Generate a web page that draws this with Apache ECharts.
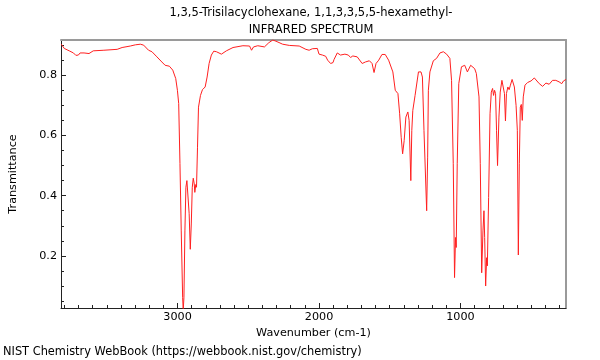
<!DOCTYPE html>
<html>
<head>
<meta charset="utf-8">
<script src="https://cdn.jsdelivr.net/npm/echarts@6/dist/echarts.min.js"></script>
<style>
html,body{margin:0;padding:0;background:#fff;}
#chart{width:600px;height:360px;}
</style>
</head>
<body>
<div id="chart"></div>
<script>
const titleLine1 = '1,3,5-Trisilacyclohexane, 1,1,3,3,5,5-hexamethyl-';
const titleLine2 = 'INFRARED SPECTRUM';
const xName = 'Wavenumber (cm-1)';
const yName = 'Transmittance';
const footer = 'NIST Chemistry WebBook (https://webbook.nist.gov/chemistry)';

const xMin = 254, xMax = 3824;
const yMin = 0.027, yMax = 0.917;
const xLabels = [1000, 2000, 3000];
const yLabels = [0.2, 0.4, 0.6, 0.8];

const wavenumber = [
3822,3801,3766,3736,3719,3701,3689,3661,3626,3596,3521,3427,3392,3334,3298,3263,3240,3205,3181,3146,
3111,3088,3058,3034,3013,3001,2992,2983,2974,2964,2960,2955,2948,2941,2934,2925,2918,2910,2903,2896,
2889,2882,2878,2871,2866,2859,2852,2838,2824,2805,2791,2777,2761,2744,2725,2690,2655,2608,2538,2491,
2477,2463,2433,2386,2355,2327,2304,2257,2210,2140,2093,2070,2047,2012,2000,1976,1953,1939,1918,1901,
1894,1871,1848,1817,1793,1777,1761,1730,1695,1672,1644,1625,1611,1597,1578,1555,1532,1508,1478,1461,
1442,1430,1419,1409,1398,1386,1372,1363,1351,1344,1337,1321,1307,1297,1279,1269,1258,1239,1232,1227,
1216,1192,1169,1145,1121,1098,1075,1063,1051,1042,1035,1030,1023,1012,993,970,951,928,900,888,
869,860,850,841,834,829,822,815,810,801,791,782,773,766,759,752,745,738,728,719,
707,696,689,682,675,665,656,647,635,619,607,598,591,584,577,570,563,556,544,525,
501,478,466,443,419,396,373,349,326,303,284,272,254
];
const transmittance = [
0.903,0.889,0.881,0.874,0.866,0.867,0.874,0.874,0.872,0.881,0.883,0.886,0.892,0.897,0.901,0.903,0.900,0.883,0.878,0.861,
0.844,0.833,0.830,0.817,0.789,0.750,0.706,0.507,0.283,0.061,0.020,0.061,0.283,0.428,0.450,0.450,0.340,0.222,0.306,0.428,
0.458,0.439,0.411,0.437,0.428,0.561,0.694,0.733,0.752,0.761,0.794,0.839,0.867,0.880,0.878,0.870,0.881,0.892,0.898,0.897,
0.883,0.894,0.898,0.894,0.908,0.917,0.913,0.903,0.899,0.897,0.886,0.883,0.888,0.889,0.870,0.867,0.863,0.850,0.839,0.842,
0.852,0.874,0.867,0.870,0.867,0.859,0.864,0.861,0.839,0.844,0.848,0.839,0.809,0.839,0.850,0.869,0.869,0.850,0.811,0.750,
0.739,0.672,0.594,0.539,0.583,0.661,0.678,0.650,0.450,0.617,0.683,0.733,0.728,0.811,0.811,0.794,0.617,0.350,0.528,0.750,
0.811,0.848,0.856,0.874,0.878,0.870,0.856,0.783,0.506,0.128,0.261,0.228,0.506,0.772,0.828,0.833,0.811,0.833,0.822,0.806,
0.728,0.506,0.144,0.283,0.350,0.261,0.100,0.194,0.167,0.394,0.672,0.744,0.756,0.733,0.750,0.739,0.617,0.500,0.661,0.744,
0.783,0.783,0.739,0.648,0.739,0.761,0.752,0.767,0.786,0.761,0.700,0.617,0.203,0.506,0.694,0.703,0.650,0.728,0.767,0.776,
0.781,0.791,0.787,0.772,0.763,0.774,0.770,0.783,0.783,0.778,0.772,0.781,0.786
];

const xMinorTicks = [];
for (let v = 300; v <= 3800; v += 100) xMinorTicks.push(v);
const yMinorTicks = [];
for (let i = 1; i <= 18; i++) yMinorTicks.push(+(i * 0.05).toFixed(2));

const FONT = 'DejaVu Sans';
const axisColor = '#222';
const borderColor = '#9a9a9a';

const data = wavenumber.map((w, i) => [w, transmittance[i]]);

const chart = echarts.init(document.getElementById('chart'), null, {renderer: 'canvas'});
chart.setOption({
  animation: false,
  backgroundColor: '#fff',
  textStyle: {fontFamily: FONT},
  graphic: [
    {type: 'text', x: 311, y: 13, style: {text: titleLine1, font: '11.5px "DejaVu Sans"', fill: '#000', align: 'center', verticalAlign: 'middle'}},
    {type: 'text', x: 311, y: 30, style: {text: titleLine2, font: '11.5px "DejaVu Sans"', fill: '#000', align: 'center', verticalAlign: 'middle'}},
    {type: 'text', x: 3, y: 352, style: {text: footer, font: '11.4px "DejaVu Sans"', fill: '#000', align: 'left', verticalAlign: 'middle'}}
  ],
  grid: {left: 57, right: 34, top: 40, bottom: 52, show: false},
  xAxis: [
    {
      type: 'value', inverse: true, min: xMin, max: xMax, position: 'bottom',
      name: xName, nameLocation: 'middle', nameGap: 17,
      nameTextStyle: {fontSize: 11.2, color: '#000', fontFamily: FONT},
      axisLine: {show: true, lineStyle: {color: axisColor, width: 1}},
      axisTick: {show: true, inside: true, length: 3, customValues: xMinorTicks, lineStyle: {color: axisColor}},
      axisLabel: {show: true, customValues: xLabels, margin: 4, fontSize: 11.2, color: '#000', fontFamily: FONT,
                  formatter: v => String(v)},
      splitLine: {show: false}
    },
    {
      type: 'value', inverse: true, min: xMin, max: xMax, position: 'bottom',
      axisLine: {show: false},
      axisTick: {show: true, inside: true, length: 5, customValues: xLabels, lineStyle: {color: axisColor}},
      axisLabel: {show: false},
      splitLine: {show: false}
    },
    {
      type: 'value', inverse: true, min: xMin, max: xMax, position: 'top',
      axisLine: {show: true, lineStyle: {color: borderColor, width: 2}},
      axisTick: {show: false}, axisLabel: {show: false}, splitLine: {show: false}
    }
  ],
  yAxis: [
    {
      type: 'value', min: yMin, max: yMax, position: 'left',
      name: yName, nameLocation: 'middle', nameGap: 42, nameRotate: 90,
      nameTextStyle: {fontSize: 11.2, color: '#000', fontFamily: FONT},
      axisLine: {show: true, lineStyle: {color: axisColor, width: 1}},
      axisTick: {show: true, inside: true, length: 3, customValues: yMinorTicks, lineStyle: {color: axisColor}},
      axisLabel: {show: true, customValues: yLabels, margin: 4, fontSize: 11.2, color: '#000', fontFamily: FONT,
                  formatter: v => v.toFixed(1)},
      splitLine: {show: false}
    },
    {
      type: 'value', min: yMin, max: yMax, position: 'left',
      axisLine: {show: false},
      axisTick: {show: true, inside: true, length: 5, customValues: yLabels, lineStyle: {color: axisColor}},
      axisLabel: {show: false}, splitLine: {show: false}
    },
    {
      type: 'value', min: yMin, max: yMax, position: 'right',
      axisLine: {show: true, lineStyle: {color: borderColor, width: 2}},
      axisTick: {show: false}, axisLabel: {show: false}, splitLine: {show: false}
    }
  ],
  series: [{
    type: 'line',
    xAxisIndex: 0, yAxisIndex: 0,
    data: data,
    showSymbol: false,
    symbol: 'none',
    smooth: false,
    clip: true,
    lineStyle: {color: '#ff2020', width: 1},
    z: 1
  }]
});
</script>
</body>
</html>
